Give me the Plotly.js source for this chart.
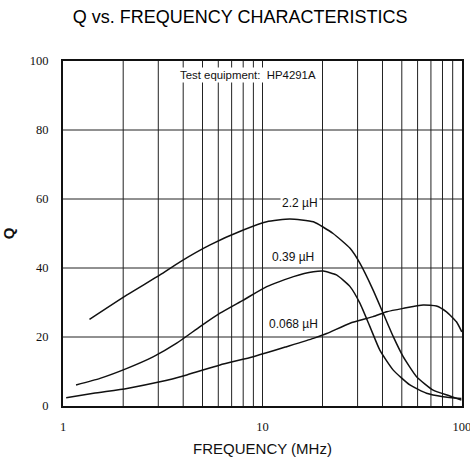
<!DOCTYPE html>
<html>
<head>
<meta charset="utf-8">
<script src="https://cdn.plot.ly/plotly-3.0.1.min.js"></script>
<style>html,body{margin:0;padding:0;background:#fff;}#chart{width:470px;height:463px;}</style>
</head>
<body>
<div id="chart"></div>
<script>
// Frequency (MHz) and Q values
const freq22 = [1.355, 2.09, 3.06, 3.86, 5.46, 8.01, 10.5, 13.7, 18.0, 22.6, 27.5, 30.8, 35.9, 40.3, 45.3, 50.8, 59.3, 71.8, 87.1, 99.5];
const q22    = [25.1, 32.2, 38.0, 41.8, 46.7, 51.0, 53.4, 54.2, 53.4, 50.0, 45.7, 41.4, 33.6, 26.9, 20.1, 14.3, 8.5, 4.6, 2.9, 1.7];

const freq039 = [1.16, 1.53, 2.09, 2.84, 3.71, 4.86, 6.12, 8.01, 10.5, 14.3, 18.0, 20.2, 23.5, 27.5, 30.8, 34.6, 38.8, 45.3, 54.9, 66.5, 80.6, 99.5];
const q039    = [6.1, 8.0, 10.9, 14.3, 18.2, 23.0, 26.9, 30.7, 34.6, 37.5, 38.9, 39.1, 38.0, 34.6, 29.8, 23.0, 16.2, 10.4, 6.1, 3.7, 2.7, 2.2];

const freq0068 = [1.035, 1.42, 2.09, 3.06, 4.17, 6.12, 8.99, 13.2, 18.0, 21.0, 27.5, 35.9, 42.0, 50.8, 64.0, 74.6, 83.8, 94.0, 100];
const q0068    = [2.4, 3.7, 5.1, 7.0, 9.0, 11.9, 14.3, 17.2, 19.6, 21.0, 24.0, 25.9, 27.3, 28.3, 29.3, 29.0, 27.3, 24.4, 21.5];

const seriesNames = ["2.2 \u00b5H", "0.39 \u00b5H", "0.068 \u00b5H"];
const labelFreq = [15.4, 14.3, 14.3];
const labelQ = [58.8, 43.2, 23.8];

const yTickVals = [0, 20, 40, 60, 80, 100];
const xTickVals = [1, 10, 100];
const xTickText = ['1', '10', '100'];
const xGridVals = [2,3,4,5,6,7,8,9,10,20,30,40,50,60,70,80,90];

const lineStyle = {color: '#111', width: 1.5, shape: 'spline', smoothing: 0.5};
const traces = [
  {x: freq22, y: q22, mode: 'lines', line: lineStyle, hoverinfo: 'skip'},
  {x: freq039, y: q039, mode: 'lines', line: lineStyle, hoverinfo: 'skip'},
  {x: freq0068, y: q0068, mode: 'lines', line: lineStyle, hoverinfo: 'skip'}
];

const shapes = xGridVals.map(v => ({type: 'line', xref: 'x', yref: 'paper', x0: v, x1: v, y0: 0, y1: 1, line: {color: '#222', width: 1}, layer: 'below'}));
[20,40,60,80].forEach(v => shapes.push({type: 'line', xref: 'paper', yref: 'y', x0: 0, x1: 1, y0: v, y1: v, line: {color: '#222', width: 1}, layer: 'below'}));

const SANS = "Liberation Sans, Arial, sans-serif";
const SERIF = "Liberation Serif, DejaVu Serif, Times New Roman, serif";
const annotations = seriesNames.map((n, i) => ({
  x: Math.log10(labelFreq[i]), y: labelQ[i], xref: 'x', yref: 'y', text: n, showarrow: false,
  font: {family: SANS, size: 12, color: '#111'}, bgcolor: '#fff', borderpad: 1
}));
annotations.push({x: Math.log10(8.46), y: 96, xref: 'x', yref: 'y', text: 'Test equipment:  HP4291A', showarrow: false,
  font: {family: SANS, size: 11.4, color: '#111'}, bgcolor: '#fff', borderpad: 1});

const layout = {
  width: 470, height: 463,
  margin: {l: 63, r: 8, t: 61, b: 57},
  paper_bgcolor: '#fff', plot_bgcolor: '#fff',
  showlegend: false,
  font: {family: SERIF, color: '#111'},
  title: {text: 'Q vs. FREQUENCY CHARACTERISTICS', x: 0.511, xanchor: 'center', y: 0.965, yanchor: 'middle',
    font: {family: SANS, size: 18, color: '#000'}},
  xaxis: {
    type: 'log', range: [-0.001, 2.001], tickvals: xTickVals, ticktext: xTickText,
    showgrid: false, zeroline: false, showline: true, linecolor: '#111', linewidth: 2, mirror: true,
    ticks: '', ticklabelstandoff: 8, ticklabeloverflow: 'allow',
    tickfont: {family: SERIF, size: 12.5, color: '#111'},
    title: {text: 'FREQUENCY (MHz)', standoff: 10, font: {family: SANS, size: 15, color: '#111'}}
  },
  yaxis: {
    range: [0, 100], tickvals: yTickVals,
    showgrid: false, zeroline: false, showline: true, linecolor: '#111', linewidth: 2, mirror: true,
    ticks: '', ticklabelstandoff: 10, ticklabeloverflow: 'allow',
    tickfont: {family: SERIF, size: 12.5, color: '#111'},
    title: {text: 'Q', standoff: 12, font: {family: SANS, size: 15, color: '#111', weight: 'bold'}}
  },
  shapes: shapes,
  annotations: annotations
};

Plotly.newPlot('chart', traces, layout, {displayModeBar: false, staticPlot: true});
</script>
</body>
</html>
